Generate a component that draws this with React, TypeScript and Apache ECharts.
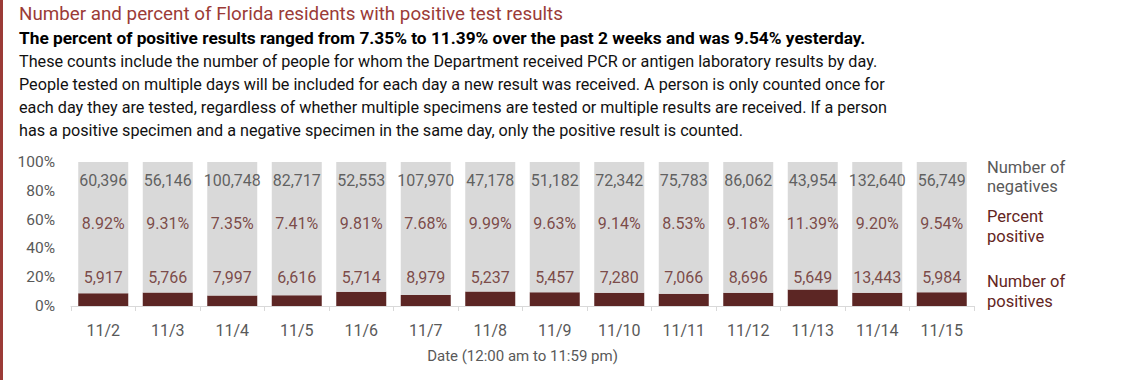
import React, { useEffect, useRef } from "react";
import * as echarts from "echarts";

const dates = ["11/2", "11/3", "11/4", "11/5", "11/6", "11/7", "11/8", "11/9", "11/10", "11/11", "11/12", "11/13", "11/14", "11/15"];
const negatives = [60396, 56146, 100748, 82717, 52553, 107970, 47178, 51182, 72342, 75783, 86062, 43954, 132640, 56749];
const positives = [5917, 5766, 7997, 6616, 5714, 8979, 5237, 5457, 7280, 7066, 8696, 5649, 13443, 5984];
const percentPositive = [8.92, 9.31, 7.35, 7.41, 9.81, 7.68, 9.99, 9.63, 9.14, 8.53, 9.18, 11.39, 9.2, 9.54];
const yTicks = [0, 20, 40, 60, 80, 100];

const titleText = "Number and percent of Florida residents with positive test results";
const subtitleText = "The percent of positive results ranged from 7.35% to 11.39% over the past 2 weeks and was 9.54% yesterday.";
const bodyLines = [
  "These counts include the number of people for whom the Department received PCR or antigen laboratory results by day.",
  "People tested on multiple days will be included for each day a new result was received. A person is only counted once for",
  "each day they are tested, regardless of whether multiple specimens are tested or multiple results are received. If a person",
  "has a positive specimen and a negative specimen in the same day, only the positive result is counted.",
];

const FONT = "Roboto, 'Liberation Sans', sans-serif";
const RED = "#9b3b37";
const MAROON = "#5c2624";
const LABEL_RED = "#632522";
const GRAY_TEXT = "#595959";

const fmt = (n: number) => n.toLocaleString("en-US");

export default function App() {
  const ref = useRef<HTMLDivElement>(null);
  useEffect(() => {
    if (!ref.current) return;
    const chart = echarts.init(ref.current, null, { renderer: "svg" });
    const graphics: any[] = [
      { type: "rect", left: 0, top: 0, shape: { width: 3, height: 380 }, style: { fill: RED } },
      { type: "text", x: 19, y: 14, style: { text: titleText, fill: RED, font: `18.8px ${FONT}`, textVerticalAlign: "middle" } },
      { type: "text", x: 19, y: 38, style: { text: subtitleText, fill: "#000", font: `bold 17.3px ${FONT}`, textVerticalAlign: "middle" } },
      ...bodyLines.map((t, i) => ({ type: "text", x: 19, y: 61 + i * 23, style: { text: t, fill: "#111", font: `16.2px ${FONT}`, textVerticalAlign: "middle" } })),
      { type: "text", x: 987, y: 177, style: { text: "Number of\nnegatives", fill: GRAY_TEXT, font: `16.5px ${FONT}`, lineHeight: 19, textVerticalAlign: "middle" } },
      { type: "text", x: 987, y: 226, style: { text: "Percent\npositive", fill: LABEL_RED, font: `16.5px ${FONT}`, lineHeight: 20, textVerticalAlign: "middle" } },
      { type: "text", x: 987, y: 291, style: { text: "Number of\npositives", fill: LABEL_RED, font: `16.5px ${FONT}`, lineHeight: 20, textVerticalAlign: "middle" } },
    ];
    const labelSeries = (yPos: number, values: string[], color: string) => ({
      type: "scatter",
      symbolSize: 0,
      silent: true,
      data: values.map((v, i) => ({ value: [i, yPos], label: { formatter: v } })),
      label: { show: true, position: "inside", color, fontSize: 16, fontFamily: FONT },
      z: 5,
    });
    chart.setOption({
      animation: false,
      textStyle: { fontFamily: FONT },
      grid: { left: 71, right: 166, top: 162, bottom: 74 },
      xAxis: {
        type: "category",
        data: dates,
        axisLine: { lineStyle: { color: "#d9d9d9", width: 1 } },
        axisTick: { show: true, length: 5, lineStyle: { color: "#d9d9d9" } },
        axisLabel: { color: GRAY_TEXT, fontSize: 16, margin: 16 },
        name: "Date (12:00 am to 11:59 pm)",
        nameLocation: "middle",
        nameGap: 42,
        nameTextStyle: { color: GRAY_TEXT, fontSize: 15 },
      },
      yAxis: {
        type: "value",
        min: yTicks[0],
        max: yTicks[yTicks.length - 1],
        interval: 20,
        splitLine: { show: false },
        axisLine: { show: false },
        axisTick: { show: false },
        axisLabel: { color: GRAY_TEXT, fontSize: 15.5, formatter: "{value}%", margin: 16 },
      },
      series: [
        {
          type: "bar",
          stack: "s",
          barWidth: 50,
          data: percentPositive,
          itemStyle: { color: MAROON },
        },
        {
          type: "bar",
          stack: "s",
          barWidth: 50,
          data: percentPositive.map((p) => 100 - p),
          itemStyle: { color: "#d9d9d9" },
        },
        labelSeries(87.5, negatives.map(fmt), "#404040"),
        labelSeries(57.6, percentPositive.map((p) => p.toFixed(2) + "%"), LABEL_RED),
        labelSeries(19.8, positives.map(fmt), LABEL_RED),
      ],
      graphic: graphics,
    });
    return () => chart.dispose();
  }, []);
  return (
    <div style={{ position: "absolute", left: 0, top: 0, width: 1140, height: 380, background: "#fff" }}>
      <div ref={ref} style={{ width: 1140, height: 380 }} />
    </div>
  );
}
